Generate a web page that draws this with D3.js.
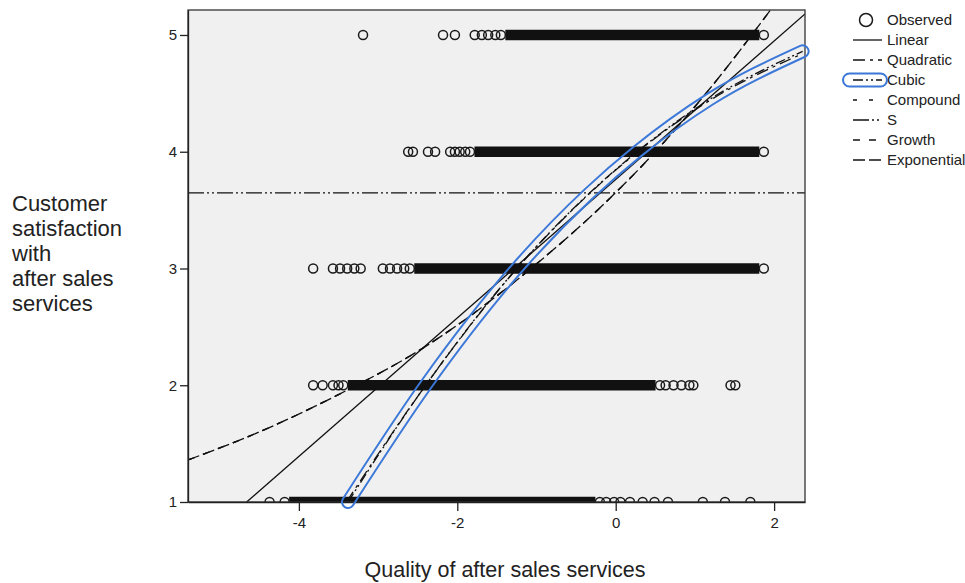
<!DOCTYPE html>
<html>
<head>
<meta charset="utf-8">
<script src="https://cdn.jsdelivr.net/npm/d3@7"></script>
<style>
  body { margin: 0; background: #fff; }
  svg { display: block; font-family: "Liberation Sans", Arial, sans-serif; }
  .axis text { font-size: 15px; fill: #222; }
  .axis line, .axis path { stroke: #222; stroke-width: 1.3; }
</style>
</head>
<body>
<svg id="chart" width="965" height="583"></svg>
<script>
// Observed: sparse circles per Y row, plus the dense run where circles overlap into a bar
const obsRows = [1, 2, 3, 4, 5];
const obsRow1 = [-4.37, -0.12, -0.02, 0.06, 0.18, 0.34, 0.49, 0.66, 1.10, 1.38, 1.70];
const obsRow2 = [-3.82, -3.70, -3.57, -3.50, 0.63, 0.73, 0.83, 0.93, 0.98, 1.45, 1.51];
const obsRow3 = [-3.82, -3.57, -3.48, -3.39, -3.30, -3.22, -2.94, -2.85, -2.76, -2.67];
const obsRow4 = [-2.62, -2.56, -2.37, -2.28, -2.09, -2.03, -1.97, -1.90];
const obsRow5 = [-3.19, -2.18, -2.03, -1.78, -1.69, -1.61, -1.52];
const denseStart = [-4.18, -3.44, -2.60, -1.84, -1.45];
const denseEnd = [-0.20, 0.56, 1.87, 1.87, 1.87];

// fitted curves
const linearX = [-4.66, 2.39];
const linearY = [1.0, 5.18];
const quadX = [-3.40, -2.41, -1.26, -0.35, 0.26, 1.19, 2.36];
const quadY = [1.0, 1.99, 2.99, 3.63, 3.99, 4.44, 4.84];
const cubicX = [-3.38, -2.40, -1.25, -0.34, 0.27, 1.19, 2.36];
const cubicY = [1.0, 2.0, 3.0, 3.64, 4.0, 4.45, 4.86];
// compound, growth and exponential give the same curve
const expX = [-5.40, -4.50, -3.50, -2.36, -1.07, 0.0, 0.50, 1.20, 1.95];
const expY = [1.36, 1.60, 1.92, 2.35, 3.0, 3.65, 4.0, 4.55, 5.21];
const sCurveX = [-5.40, 2.39];
const sCurveY = [3.647, 3.647];

const xTicks = [-4, -2, 0, 2];
const yTicks = [1, 2, 3, 4, 5];
const legendLabels = ['Observed', 'Linear', 'Quadratic', 'Cubic', 'Compound', 'S', 'Growth', 'Exponential'];
const yTitle = ['Customer', 'satisfaction', 'with', 'after sales', 'services'];
const xTitle = 'Quality of after sales services';

const margin = { left: 188, top: 10 };
const width = 617, height = 492;
const ringColor = '#3b78d8';
const bg = '#f0f0f0';

const pairs = (xs, ys) => xs.map((v, i) => [v, ys[i]]);
const series = [
    { name: 'Linear', pts: pairs(linearX, linearY), dash: null },
    { name: 'Quadratic', pts: pairs(quadX, quadY), dash: '12,5,3,5' },
    { name: 'Cubic', pts: pairs(cubicX, cubicY), dash: '10,3,2,3,2,3' },
    { name: 'Compound', pts: pairs(expX, expY), dash: '4,12' },
    { name: 'S', pts: pairs(sCurveX, sCurveY), dash: '16,3,2,3,2,3' },
    { name: 'Growth', pts: pairs(expX, expY), dash: '7,9' },
    { name: 'Exponential', pts: pairs(expX, expY), dash: '12,4' }
];

const svg = d3.select('#chart');
const defs = svg.append('defs');

defs.append('clipPath').attr('id', 'plotClip')
    .append('rect').attr('width', width).attr('height', height);

const x = d3.scaleLinear().domain([-5.40, 2.39]).range([0, width]);
const y = d3.scaleLinear().domain([1, 5.214]).range([height, 0]);

const line = d3.line()
    .x(d => x(d[0]))
    .y(d => y(d[1]))
    .curve(d3.curveMonotoneX);

const chartArea = svg.append('g')
    .attr('transform', `translate(${margin.left},${margin.top})`);

chartArea.append('rect')
    .attr('width', width).attr('height', height)
    .attr('fill', bg);

const plot = chartArea.append('g').attr('clip-path', 'url(#plotClip)');

// Observed circles
const r = 4.5;
const obsByRow = [obsRow1, obsRow2, obsRow3, obsRow4, obsRow5];

plot.selectAll('.dense')
    .data(obsRows)
    .join('line')
    .attr('class', 'dense')
    .attr('x1', (d, i) => x(denseStart[i]) + r)
    .attr('x2', (d, i) => x(denseEnd[i]) - r)
    .attr('y1', d => y(d))
    .attr('y2', d => y(d))
    .attr('stroke', '#111')
    .attr('stroke-width', 2 * r + 1.5);

const obsPoints = [];
obsRows.forEach((row, i) => {
    obsByRow[i].forEach(v => obsPoints.push([v, row]));
    obsPoints.push([denseStart[i], row], [denseEnd[i], row]);
});

plot.selectAll('.obs')
    .data(obsPoints)
    .join('circle')
    .attr('class', 'obs')
    .attr('cx', d => x(d[0]))
    .attr('cy', d => y(d[1]))
    .attr('r', r)
    .attr('fill', 'none')
    .attr('stroke', '#1a1a1a')
    .attr('stroke-width', 1.5);

// Fitted curves
plot.selectAll('.fit')
    .data(series)
    .join('path')
    .attr('class', 'fit')
    .attr('d', d => line(d.pts))
    .attr('fill', 'none')
    .attr('stroke', '#111')
    .attr('stroke-width', 1.3)
    .attr('stroke-dasharray', d => d.dash);

// Blue highlight ring around the cubic curve (outline only, via mask)
const cubicPath = line(pairs(cubicX, cubicY));
const mask = defs.append('mask').attr('id', 'ringMask')
    .attr('maskUnits', 'userSpaceOnUse')
    .attr('x', -margin.left).attr('y', -margin.top)
    .attr('width', 965).attr('height', 583);
mask.append('rect')
    .attr('x', -margin.left).attr('y', -margin.top)
    .attr('width', 965).attr('height', 583)
    .attr('fill', '#fff');
mask.append('path')
    .attr('d', cubicPath)
    .attr('fill', 'none')
    .attr('stroke', '#000')
    .attr('stroke-width', 10)
    .attr('stroke-linecap', 'round');

// Axes and frame
const xAxis = d3.axisBottom(x).tickValues(xTicks).tickFormat(d => String(d))
    .tickSize(9).tickSizeOuter(0).tickPadding(6);
const yAxis = d3.axisLeft(y).tickValues(yTicks).tickFormat(d => String(d))
    .tickSize(8).tickSizeOuter(0).tickPadding(3);

chartArea.append('rect')
    .attr('width', width).attr('height', height)
    .attr('fill', 'none')
    .attr('stroke', '#333')
    .attr('stroke-width', 1.3);

chartArea.append('g')
    .attr('class', 'axis x-axis')
    .attr('transform', `translate(0,${height})`)
    .call(xAxis);

chartArea.append('g')
    .attr('class', 'axis y-axis')
    .call(yAxis);

chartArea.append('path')
    .attr('d', cubicPath)
    .attr('fill', 'none')
    .attr('stroke', ringColor)
    .attr('stroke-width', 14)
    .attr('stroke-linecap', 'round')
    .attr('mask', 'url(#ringMask)');

// Axis titles
svg.append('text')
    .attr('x', 505)
    .attr('y', 577)
    .attr('text-anchor', 'middle')
    .attr('font-size', 21.5)
    .attr('fill', '#222')
    .text(xTitle);

svg.append('g').selectAll('text')
    .data(yTitle)
    .join('text')
    .attr('x', 12)
    .attr('y', (d, i) => 211 + i * 25)
    .attr('font-size', 22)
    .attr('fill', '#222')
    .text(d => d);

// Legend
const legend = svg.append('g').attr('class', 'legend');
const rowY = i => 20 + i * 20;

legend.selectAll('text')
    .data(legendLabels)
    .join('text')
    .attr('x', 887)
    .attr('y', (d, i) => rowY(i) + 5)
    .attr('font-size', 15)
    .attr('fill', '#222')
    .text(d => d);

legend.append('circle')
    .attr('cx', 866).attr('cy', rowY(0))
    .attr('r', 6.5)
    .attr('fill', 'none')
    .attr('stroke', '#1a1a1a')
    .attr('stroke-width', 1.5);

legend.selectAll('.key')
    .data(series)
    .join('line')
    .attr('class', 'key')
    .attr('x1', 853).attr('x2', 882)
    .attr('y1', (d, i) => rowY(i + 1))
    .attr('y2', (d, i) => rowY(i + 1))
    .attr('stroke', '#111')
    .attr('stroke-width', 1.3)
    .attr('stroke-dasharray', d => d.dash);

legend.append('rect')
    .attr('x', 843).attr('y', rowY(3) - 6.5)
    .attr('width', 44).attr('height', 13)
    .attr('rx', 6.5)
    .attr('fill', 'none')
    .attr('stroke', ringColor)
    .attr('stroke-width', 2);
</script>
</body>
</html>
